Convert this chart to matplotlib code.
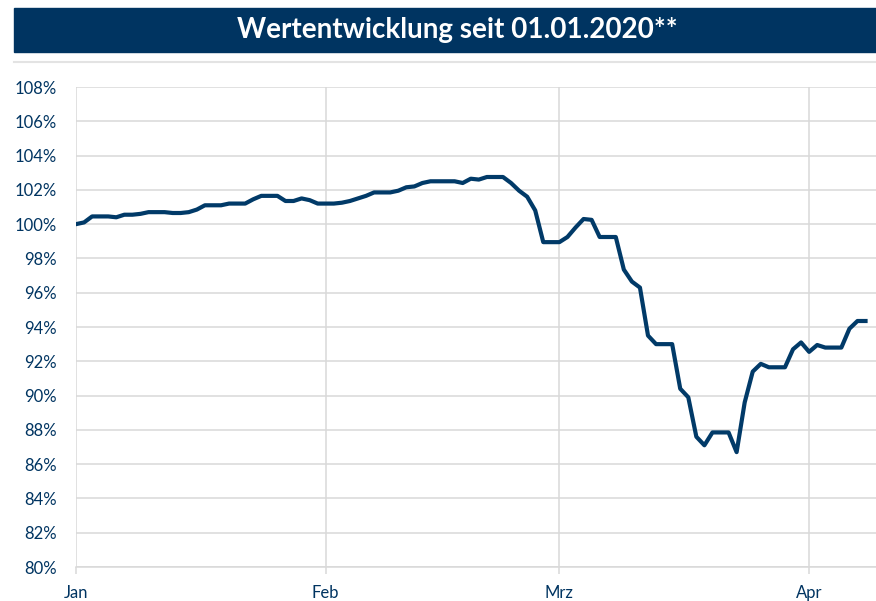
import numpy as np
import pandas as pd
import matplotlib
matplotlib.use("Agg")
import matplotlib.pyplot as plt
import matplotlib.dates as mdates
from matplotlib.patches import Rectangle

# === Daten (täglich ab 01.01.2020, Wochenenden flach) ===
start_date = "2020-01-01"
werte = [
    100.0, 100.1, 100.45, 100.45, 100.45, 100.4, 100.55, 100.55, 100.6, 100.7,
    100.7, 100.7, 100.65, 100.65, 100.7, 100.85, 101.1, 101.1, 101.1, 101.2,
    101.2, 101.2, 101.45, 101.65, 101.65, 101.65, 101.35, 101.35, 101.5, 101.4,
    101.2, 101.2, 101.2, 101.25, 101.35, 101.5, 101.65, 101.85, 101.85, 101.85,
    101.95, 102.15, 102.2, 102.4, 102.5, 102.5, 102.5, 102.5, 102.4, 102.65,
    102.6, 102.75, 102.75, 102.75, 102.4, 101.95, 101.6, 100.8, 98.95, 98.95,
    98.95, 99.25, 99.8, 100.3, 100.25, 99.25, 99.25, 99.25, 97.35, 96.65,
    96.3, 93.5, 93.0, 93.0, 93.0, 90.4, 89.9, 87.6, 87.1, 87.85,
    87.85, 87.85, 86.7, 89.6, 91.4, 91.85, 91.65, 91.65, 91.65, 92.7,
    93.1, 92.55, 92.95, 92.8, 92.8, 92.8, 93.9, 94.35, 94.35,
]
monat_start = ["2020-01-01", "2020-02-01", "2020-03-01", "2020-04-01"]
monat_labels = ["Jan", "Feb", "Mrz", "Apr"]
y_ticks = list(range(80, 110, 2))
titel = "Wertentwicklung seit 01.01.2020**"

navy = "#003461"
linie = "#013a68"
grau = "#d9d9d9"

plt.rcParams["font.family"] = ["Lato", "DejaVu Sans"]

datum = pd.date_range(start_date, periods=len(werte), freq="D")

fig = plt.figure(figsize=(8.76, 6.01), dpi=100)

# Titelbalken
fig.patches.append(Rectangle((14 / 876, 1 - 52 / 601), 1.0, 44 / 601,
                             transform=fig.transFigure, color=navy, zorder=0))
fig.text(457 / 876, 1 - 30 / 601, titel, color="white", fontsize=20,
         fontweight="bold", ha="center", va="center")
fig.add_artist(plt.Line2D([14 / 876, 1.0], [1 - 62 / 601, 1 - 62 / 601],
                          transform=fig.transFigure, color="#e3e3e3", lw=1.5))

ax = fig.add_axes([76 / 876, 1 - 567 / 601, 1 - 76 / 876, 480 / 601])
ax.plot(datum, werte, color=linie, linewidth=3, solid_joinstyle="round", zorder=3)

ax.set_ylim(80, 108)
ax.set_yticks(y_ticks)
ax.set_yticklabels([f"{v}%" for v in y_ticks])
ax.set_xlim(pd.Timestamp(start_date), pd.Timestamp(start_date) + pd.Timedelta(days=99.3))
ax.set_xticks(pd.to_datetime(monat_start))
ax.set_xticklabels(monat_labels)

ax.grid(True, color=grau, linewidth=1.1)
ax.set_axisbelow(True)
for s in ["top", "right", "left"]:
    ax.spines[s].set_visible(False)
ax.spines["bottom"].set_color(grau)
ax.spines["bottom"].set_linewidth(1.1)

ax.tick_params(axis="y", length=0, pad=14, labelsize=12, labelcolor=navy)
ax.tick_params(axis="x", length=5, color=grau, width=1.1, pad=8,
               labelsize=12, labelcolor=navy)

fig.savefig("out.png", dpi=100)
